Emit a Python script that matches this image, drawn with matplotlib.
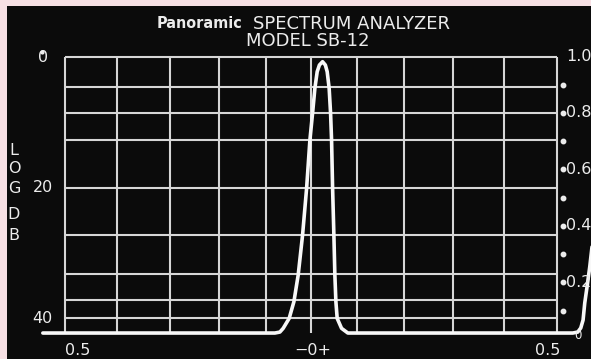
import matplotlib
matplotlib.use("Agg")
import matplotlib.pyplot as plt
from matplotlib import font_manager

# ---- data -------------------------------------------------------------
# Trace: frequency offset (fraction of sweep) vs. attenuation in dB below top
trace_freq = [-0.545, -0.0736, -0.0635, -0.0568, -0.0446, -0.0350, -0.0263,
              -0.0174, -0.0092, -0.0025, 0.0029, 0.0076, 0.0123, 0.0168,
              0.0232, 0.0289, 0.0326, 0.0366, 0.0395, 0.0415, 0.0436,
              0.0462, 0.0482, 0.0503, 0.0529, 0.0618, 0.0746, 0.5315,
              0.5416, 0.5477, 0.5524, 0.5558, 0.5605, 0.5660, 0.5721]
trace_db = [42.30, 42.30, 42.15, 41.58, 40.05, 37.50, 33.41, 27.28, 20.12,
            12.72, 8.63, 4.80, 2.25, 1.23, 0.72, 1.23, 2.25, 4.80, 8.63,
            12.72, 20.12, 27.28, 33.41, 37.50, 40.05, 41.58, 42.30, 42.30,
            42.15, 41.53, 40.31, 37.70, 35.20, 32.14, 28.05]

# Graticule positions (printed screen overlay)
grid_freq = [-0.5, -0.395, -0.287, -0.187, -0.092, 0.0, 0.094, 0.189,
             0.288, 0.392, 0.5]
grid_db = [0, 4.6, 8.58, 12.72, 20.08, 27.28, 33.3, 37.24, 40]
floor_db = 42.3

# Scale labels
left_ticks = [0, 20, 40]
left_tick_labels = ["0", "20", "40"]
axis_letters = ["L", "O", "G", "D", "B"]
axis_letter_db = [14.4, 17.1, 20.2, 24.2, 27.3]
bottom_ticks = [-0.5, 0.0, 0.5]
bottom_tick_labels = ["0.5", "\u22120+", "0.5"]
right_dot_values = [0.1, 0.2, 0.3, 0.4, 0.5, 0.6, 0.7, 0.8, 0.9]
right_label_values = [1.0, 0.8, 0.6, 0.4, 0.2]
right_labels = ["1.0", "0.8", "0.6", "0.4", "0.2"]

# ---- style ------------------------------------------------------------
BG = "#0b0b0b"
BORDER = "#f7e0e4"
INK = "#ececec"
GRID = "#d6d6d6"
TRACE = "#f8f8f8"


def narrow_bold_props(size):
    """FontProperties for a condensed bold face file, if one is installed."""
    for f in font_manager.fontManager.ttflist:
        n = f.name.lower()
        path = f.fname.lower()
        wt = f.weight if isinstance(f.weight, int) else 400
        bold = wt >= 600 or "bold" in path
        narrow = ("narrow" in n or "condensed" in n or "condensed" in path
                  or "narrow" in path)
        if bold and narrow and "oblique" not in path and "italic" not in path:
            return font_manager.FontProperties(fname=f.fname, size=size)
    return font_manager.FontProperties(family="Liberation Sans",
                                       weight="bold", size=size)


fig = plt.figure(figsize=(5.91, 3.59), dpi=100, facecolor=BORDER)
ax = fig.add_axes([7 / 591, 0, 584 / 591, 353 / 359], facecolor=BG)
ax.set_xlim(-0.6178, 0.5685)
ax.set_ylim(46.28, -7.816)
for s in ax.spines.values():
    s.set_visible(False)
ax.set_xticks([])
ax.set_yticks([])

# graticule
ax.vlines(grid_freq, grid_db[0], floor_db, colors=GRID, linewidth=1.5, zorder=2)
ax.hlines(grid_db, grid_freq[0], grid_freq[-1], colors=GRID, linewidth=1.5,
          zorder=2)

# trace
ax.plot(trace_freq, trace_db, color=TRACE, linewidth=2.6,
        solid_joinstyle="round", solid_capstyle="round", zorder=3)

# title: brand name sized to fill its slot before "SPECTRUM"
brand = ax.text(-0.313, -5.1, "Panoramic", color=INK,
                fontproperties=narrow_bold_props(14), ha="left", va="center")
renderer = fig.canvas.get_renderer()
width_px = brand.get_window_extent(renderer).width
brand.set_fontsize(14 * 86.0 / width_px)
ax.text(-0.118, -5.1, "SPECTRUM ANALYZER", color=INK, fontsize=13,
        ha="left", va="center")
ax.text(-0.007, -2.4, "MODEL SB-12", color=INK, fontsize=13,
        ha="center", va="center")

# left dB scale
for v, lab in zip(left_ticks, left_tick_labels):
    ax.text(-0.545, v + 0.1 if v == 0 else v, lab, color=INK, fontsize=11.5,
            ha="center", va="center")
ax.plot([-0.547], [-0.8], "o", color=INK, markersize=2, zorder=4)
for ch, y in zip(axis_letters, axis_letter_db):
    ax.text(-0.6036, y, ch, color=INK, fontsize=11.5, ha="center",
            va="center")

# bottom frequency scale
bottom_x = [-0.474, 0.003, 0.481]
for x, lab in zip(bottom_x, bottom_tick_labels):
    ax.text(x, 45.0, lab, color=INK, fontsize=11.5, ha="center",
            va="center")

# right linear scale
axr = ax.twinx()
axr.set_ylim(-0.0711, 1.178)
for s in axr.spines.values():
    s.set_visible(False)
axr.set_yticks([])
axr.plot([0.5112] * len(right_dot_values), right_dot_values, "o",
         color=INK, markersize=3.2, zorder=4)
for v, lab in zip(right_label_values, right_labels):
    axr.text(0.5178, v, lab, color=INK, fontsize=11.5, ha="left",
             va="center", clip_on=False)
axr.text(0.5425, 0.012, "0", color=INK, fontsize=8.5, ha="center",
         va="center")

fig.savefig("out.png", dpi=100, facecolor=BORDER)
